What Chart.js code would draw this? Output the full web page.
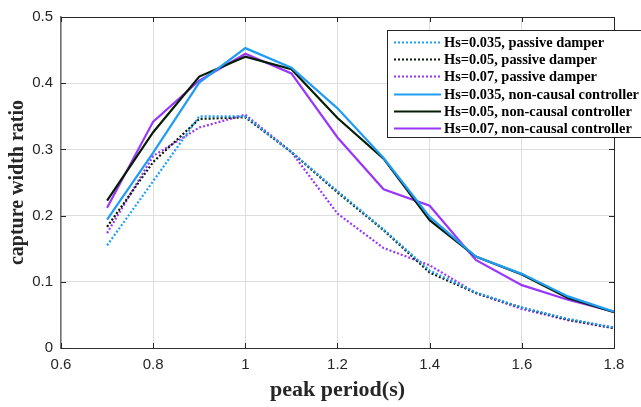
<!DOCTYPE html>
<html>
<head>
<meta charset="utf-8">
<script src="https://cdn.jsdelivr.net/npm/chart.js@4.4.1/dist/chart.umd.min.js"></script>
<style>
html, body { margin: 0; padding: 0; background: #fff; }
#wrap { width: 641px; height: 407px; }
</style>
</head>
<body>
<div id="wrap"><canvas id="chart" width="641" height="407"></canvas></div>
<script>
// peak period (s)
const periods = [0.7, 0.8, 0.9, 1.0, 1.1, 1.2, 1.3, 1.4, 1.5, 1.6, 1.7, 1.8];
const xTicks = [0.6, 0.8, 1, 1.2, 1.4, 1.6, 1.8];
const yTicks = [0, 0.1, 0.2, 0.3, 0.4, 0.5];

// capture width ratio - passive damper
const passive035 = [0.155, 0.252, 0.350, 0.350, 0.296, 0.237, 0.179, 0.117, 0.084, 0.061, 0.044, 0.031];
const passive05  = [0.183, 0.281, 0.346, 0.3485, 0.296, 0.235, 0.178, 0.114, 0.083, 0.061, 0.043, 0.030];
const passive07  = [0.1735, 0.290, 0.333, 0.3525, 0.296, 0.203, 0.151, 0.125, 0.083, 0.059, 0.042, 0.030];

// capture width ratio - non-causal controller
const control035 = [0.194, 0.295, 0.401, 0.453, 0.4235, 0.362, 0.287, 0.198, 0.138, 0.112, 0.078, 0.055];
const control05  = [0.2225, 0.326, 0.410, 0.440, 0.421, 0.3475, 0.286, 0.193, 0.138, 0.111, 0.0755, 0.054];
const control07  = [0.212, 0.342, 0.404, 0.4446, 0.4147, 0.318, 0.2397, 0.215, 0.133, 0.095, 0.073, 0.055];

const labels = [
    'Hs=0.035, passive damper',
    'Hs=0.05, passive damper',
    'Hs=0.07, passive damper',
    'Hs=0.035, non-causal controller',
    'Hs=0.05, non-causal controller',
    'Hs=0.07, non-causal controller'
];

const BLUE = '#1f9df4';
const BLACK = '#051c05';
const PURPLE = '#9a36fb';

function series(label, values, color, dotted) {
    return {
        label: label,
        data: values.map((v, i) => ({ x: periods[i], y: v })),
        borderColor: color,
        backgroundColor: color,
        borderWidth: 2.2,
        borderDash: dotted ? [2, 2] : [],
        pointRadius: 0,
        tension: 0,
        fill: false
    };
}

// bordure du cadre + petits ticks vers l'intérieur (style matlab)
const frameTicks = {
    id: 'frameTicks',
    afterDatasetsDraw(chart) {
        const { ctx, chartArea: a, scales } = chart;
        ctx.save();
        ctx.strokeStyle = '#262626';
        ctx.lineWidth = 1;
        ctx.beginPath();
        ctx.moveTo(a.left, a.top + 0.5);
        ctx.lineTo(a.right + 0.5, a.top + 0.5);
        ctx.lineTo(a.right + 0.5, a.bottom);
        ctx.stroke();
        ctx.beginPath();
        xTicks.forEach(v => {
            const px = Math.round(scales.x.getPixelForValue(v)) + 0.5;
            ctx.moveTo(px, a.bottom); ctx.lineTo(px, a.bottom - 5);
            ctx.moveTo(px, a.top); ctx.lineTo(px, a.top + 5);
        });
        yTicks.forEach(v => {
            const py = Math.round(scales.y.getPixelForValue(v)) + 0.5;
            ctx.moveTo(a.left, py); ctx.lineTo(a.left + 5, py);
            ctx.moveTo(a.right, py); ctx.lineTo(a.right - 5, py);
        });
        ctx.stroke();
        ctx.restore();
    }
};

// légende encadrée en haut à droite
const legendBox = {
    id: 'legendBox',
    afterDraw(chart) {
        const { ctx, chartArea } = chart;
        const x0 = chartArea.left + 326, y0 = chartArea.top + 13;
        const rowH = 17.2;
        ctx.save();
        ctx.fillStyle = '#fff';
        ctx.fillRect(x0, y0, 270, 108);
        ctx.strokeStyle = '#262626';
        ctx.lineWidth = 1;
        ctx.strokeRect(x0 + 0.5, y0 + 0.5, 270, 107);
        ctx.font = 'bold 14.4px "Liberation Serif"';
        ctx.textBaseline = 'middle';
        chart.data.datasets.forEach((ds, i) => {
            const y = Math.round(y0 + 12 + i * rowH) + 0.5;
            ctx.strokeStyle = ds.borderColor;
            ctx.lineWidth = 2.2;
            ctx.setLineDash(ds.borderDash);
            ctx.beginPath();
            ctx.moveTo(x0 + 7, y);
            ctx.lineTo(x0 + 54, y);
            ctx.stroke();
            ctx.setLineDash([]);
            ctx.fillStyle = '#000';
            ctx.fillText(ds.label, x0 + 57, y + 1);
        });
        ctx.restore();
    }
};

Chart.defaults.font.family = '"Liberation Sans", Arial, sans-serif';
Chart.defaults.color = '#262626';

const fmt = v => String(+Number(v).toFixed(1));
const serif = '"Liberation Serif", "Times New Roman", serif';

new Chart(document.getElementById('chart'), {
    type: 'line',
    data: {
        datasets: [
            series(labels[0], passive035, BLUE, true),
            series(labels[1], passive05, BLACK, true),
            series(labels[2], passive07, PURPLE, true),
            series(labels[3], control035, BLUE, false),
            series(labels[4], control05, BLACK, false),
            series(labels[5], control07, PURPLE, false)
        ]
    },
    options: {
        responsive: false,
        animation: false,
        devicePixelRatio: 1,
        layout: { padding: { left: 0, top: 9, right: 27, bottom: 0 } },
        plugins: {
            legend: { display: false },
            tooltip: { enabled: false }
        },
        scales: {
            x: {
                type: 'linear',
                min: 0.6,
                max: 1.8,
                afterBuildTicks: s => { s.ticks = xTicks.map(v => ({ value: v })); },
                afterFit: s => { s.height = 59; },
                ticks: { font: { size: 15 }, padding: 8, callback: fmt, maxRotation: 0 },
                grid: { color: '#dedede', drawTicks: false },
                border: { color: '#303030', width: 1 },
                title: { display: true, text: 'peak period(s)', font: { family: serif, size: 22, weight: 'bold' }, color: '#262626', padding: { top: 0, bottom: 3 } }
            },
            y: {
                min: 0,
                max: 0.5,
                afterBuildTicks: s => { s.ticks = yTicks.map(v => ({ value: v })); },
                afterFit: s => { s.width = 61; },
                ticks: { font: { size: 15 }, padding: 8, callback: fmt },
                grid: { color: '#dedede', drawTicks: false },
                border: { color: '#707070', width: 1.5 },
                title: { display: true, text: 'capture width ratio', font: { family: serif, size: 20, weight: 'bold' }, color: '#262626', padding: { top: 6, bottom: 0 } }
            }
        }
    },
    plugins: [frameTicks, legendBox]
});
</script>
</body>
</html>
